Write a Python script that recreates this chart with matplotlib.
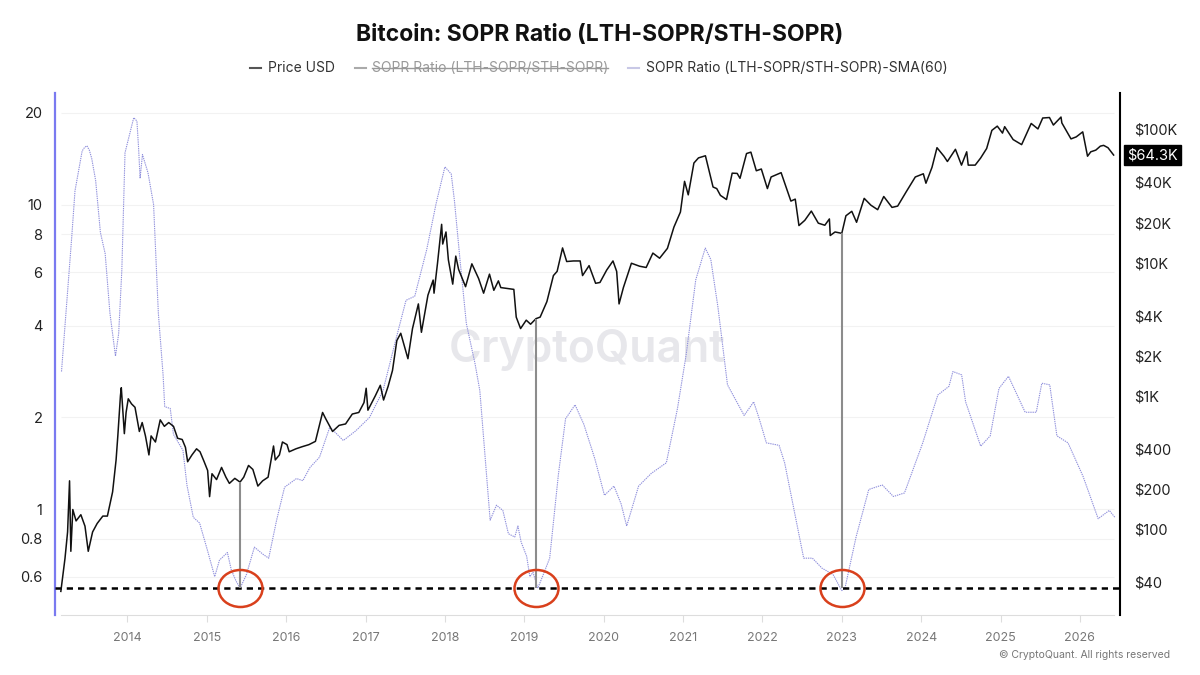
import numpy as np
import pandas as pd
import matplotlib
matplotlib.use("Agg")
import matplotlib.pyplot as plt
from matplotlib.path import Path
from matplotlib.transforms import Affine2D, blended_transform_factory
from matplotlib.lines import Line2D
from matplotlib.ticker import NullLocator

plt.rcParams['font.family'] = ['Inter', 'DejaVu Sans']

# ---- data ----

# BTC price (USD), right axis
price_dates = [
    '2013-03-01', '2013-03-20', '2013-04-01', '2013-04-10', '2013-04-16', '2013-04-25',
    '2013-05-10', '2013-06-01', '2013-06-20', '2013-07-05', '2013-07-25', '2013-08-15',
    '2013-09-10', '2013-10-01', '2013-10-25', '2013-11-10', '2013-11-18', '2013-11-30',
    '2013-12-04', '2013-12-18', '2013-12-26', '2014-01-05', '2014-01-20', '2014-02-05',
    '2014-02-25', '2014-03-10', '2014-03-25', '2014-04-10', '2014-04-20', '2014-05-10',
    '2014-06-01', '2014-06-20', '2014-07-10', '2014-08-01', '2014-08-20', '2014-09-10',
    '2014-09-25', '2014-10-05', '2014-10-25', '2014-11-15', '2014-12-01', '2014-12-20',
    '2015-01-05', '2015-01-14', '2015-01-25', '2015-02-15', '2015-03-10', '2015-03-30',
    '2015-04-15', '2015-05-10', '2015-06-03', '2015-06-20', '2015-07-12', '2015-08-01',
    '2015-08-24', '2015-09-15', '2015-10-10', '2015-11-04', '2015-11-12', '2015-12-01',
    '2015-12-15', '2016-01-05', '2016-01-15', '2016-02-15', '2016-03-15', '2016-04-15',
    '2016-05-15', '2016-06-17', '2016-07-01', '2016-08-02', '2016-09-01', '2016-10-01',
    '2016-11-01', '2016-12-01', '2016-12-25', '2017-01-04', '2017-01-12', '2017-02-15',
    '2017-03-10', '2017-03-25', '2017-04-15', '2017-05-05', '2017-05-25', '2017-06-12',
    '2017-07-15', '2017-08-05', '2017-09-01', '2017-09-15', '2017-10-15', '2017-11-08',
    '2017-11-12', '2017-11-28', '2017-12-17', '2017-12-22', '2018-01-06', '2018-01-17',
    '2018-02-06', '2018-02-20', '2018-03-05', '2018-04-06', '2018-05-05', '2018-06-05',
    '2018-06-28', '2018-07-25', '2018-08-14', '2018-09-04', '2018-09-15', '2018-10-15',
    '2018-11-14', '2018-11-25', '2018-12-15', '2019-01-10', '2019-01-30', '2019-02-24',
    '2019-03-15', '2019-04-15', '2019-05-15', '2019-06-01', '2019-06-26', '2019-07-15',
    '2019-08-15', '2019-09-15', '2019-09-26', '2019-10-26', '2019-11-25', '2019-12-15',
    '2020-01-15', '2020-02-13', '2020-03-01', '2020-03-12', '2020-04-01', '2020-05-08',
    '2020-06-15', '2020-07-15', '2020-08-15', '2020-09-15', '2020-10-21', '2020-11-20',
    '2020-12-20', '2021-01-08', '2021-01-25', '2021-02-20', '2021-03-13', '2021-04-14',
    '2021-05-19', '2021-06-05', '2021-06-22', '2021-07-20', '2021-08-15', '2021-09-07',
    '2021-09-20', '2021-10-20', '2021-11-09', '2021-12-04', '2021-12-27', '2022-01-24',
    '2022-02-10', '2022-03-28', '2022-05-12', '2022-06-01', '2022-06-18', '2022-07-15',
    '2022-08-14', '2022-09-15', '2022-10-15', '2022-11-05', '2022-11-09', '2022-12-01',
    '2023-01-01', '2023-01-20', '2023-02-16', '2023-03-10', '2023-04-14', '2023-05-15',
    '2023-06-15', '2023-07-13', '2023-08-20', '2023-09-15', '2023-10-24', '2023-12-05',
    '2024-01-11', '2024-01-23', '2024-02-20', '2024-03-14', '2024-04-15', '2024-05-01',
    '2024-06-07', '2024-07-05', '2024-07-29', '2024-08-05', '2024-09-06', '2024-10-01',
    '2024-10-29', '2024-11-22', '2024-12-17', '2025-01-10', '2025-01-20', '2025-02-28',
    '2025-04-08', '2025-05-22', '2025-06-22', '2025-07-14', '2025-08-14', '2025-09-01',
    '2025-10-06', '2025-10-10', '2025-11-21', '2025-12-15', '2026-01-14', '2026-02-05',
    '2026-02-20', '2026-03-15', '2026-04-05', '2026-04-20', '2026-05-10', '2026-06-05',
]
price_usd = [
    34, 60, 95, 230, 68, 140,
    115, 128, 105, 68, 95, 110,
    125, 125, 190, 330, 500, 1000,
    1150, 520, 750, 950, 870, 820,
    540, 630, 500, 360, 500, 450,
    660, 590, 630, 590, 480, 470,
    410, 320, 360, 400, 380, 320,
    275, 175, 260, 235, 290, 245,
    220, 240, 225, 245, 300, 280,
    210, 230, 245, 420, 330, 360,
    450, 430, 380, 400, 415, 430,
    455, 750, 675, 540, 600, 615,
    730, 750, 890, 1140, 780, 1000,
    1200, 930, 1180, 1550, 2600, 2950,
    1900, 3200, 4900, 3000, 5700, 7400,
    5900, 9900, 19400, 13800, 17000, 10500,
    6900, 11200, 8900, 6600, 9800, 7600,
    5900, 8200, 6200, 7300, 6500, 6400,
    6300, 3900, 3200, 3700, 3450, 3800,
    3900, 5100, 8000, 8600, 12900, 10200,
    10300, 10300, 8000, 9500, 7000, 7100,
    8800, 10300, 8600, 4900, 6500, 9900,
    9400, 9200, 11800, 10800, 12800, 18500,
    24000, 40800, 32300, 56000, 61200, 63500,
    37000, 36000, 32000, 29800, 47000, 46800,
    43000, 66000, 67600, 49000, 50500, 36000,
    44000, 47400, 29000, 30000, 19000, 20800,
    24400, 19800, 19100, 21300, 16000, 17000,
    16600, 22500, 24300, 20100, 30400, 27000,
    25000, 31400, 26000, 26600, 34000, 44000,
    46500, 39500, 52000, 73000, 63000, 57500,
    71000, 54000, 68000, 54000, 54000, 61000,
    72000, 98500, 106000, 94000, 105000, 84000,
    77000, 111000, 101000, 122000, 123000, 108000,
    124000, 112000, 85000, 88000, 96000, 63000,
    68000, 70000, 75000, 76000, 73000, 64300,
]

# SOPR Ratio (LTH-SOPR/STH-SOPR) SMA(60), left axis
sma_years = [
    2013.17, 2013.30, 2013.34, 2013.43, 2013.46, 2013.49, 2013.52, 2013.55, 2013.60, 2013.66,
    2013.72, 2013.78, 2013.85, 2013.89, 2013.93, 2013.97, 2014.08, 2014.12, 2014.14, 2014.16,
    2014.19, 2014.26, 2014.33, 2014.39, 2014.45, 2014.47, 2014.54, 2014.58, 2014.70, 2014.75,
    2014.83, 2014.91, 2015.01, 2015.10, 2015.16, 2015.26, 2015.31, 2015.37, 2015.42, 2015.50,
    2015.60, 2015.71, 2015.78, 2015.88, 2015.98, 2016.13, 2016.21, 2016.30, 2016.42, 2016.55,
    2016.72, 2016.88, 2017.05, 2017.22, 2017.39, 2017.51, 2017.62, 2017.77, 2017.89, 2018.00,
    2018.08, 2018.12, 2018.19, 2018.27, 2018.38, 2018.44, 2018.50, 2018.57, 2018.65, 2018.73,
    2018.80, 2018.88, 2018.92, 2018.96, 2019.03, 2019.07, 2019.11, 2019.17, 2019.24, 2019.32,
    2019.43, 2019.52, 2019.64, 2019.75, 2019.89, 2020.01, 2020.13, 2020.22, 2020.29, 2020.44,
    2020.60, 2020.79, 2020.93, 2021.04, 2021.16, 2021.28, 2021.35, 2021.44, 2021.56, 2021.77,
    2021.89, 2021.96, 2022.05, 2022.21, 2022.28, 2022.40, 2022.52, 2022.63, 2022.75, 2022.89,
    2023.00, 2023.04, 2023.18, 2023.34, 2023.51, 2023.65, 2023.79, 2024.02, 2024.21, 2024.35,
    2024.40, 2024.51, 2024.56, 2024.75, 2024.87, 2024.98, 2025.10, 2025.31, 2025.45, 2025.52,
    2025.62, 2025.71, 2025.85, 2026.04, 2026.23, 2026.37, 2026.44,
]
sma_ratio = [
    2.83, 7.9, 11.1, 15.0, 15.4, 15.6, 15.1, 14.2, 12.0, 8.1,
    6.9, 4.4, 3.18, 3.77, 6.1, 14.8, 19.3, 18.8, 15.5, 12.2,
    14.6, 12.7, 10.0, 4.4, 2.75, 2.17, 2.14, 1.76, 1.56, 1.2,
    0.94, 0.90, 0.73, 0.60, 0.68, 0.72, 0.63, 0.58, 0.55, 0.61,
    0.75, 0.71, 0.69, 0.92, 1.18, 1.26, 1.24, 1.37, 1.48, 1.86,
    1.68, 1.81, 2.0, 2.45, 3.67, 4.85, 5.0, 7.1, 10.1, 13.3,
    12.6, 10.3, 6.6, 4.07, 3.0, 2.45, 1.56, 0.92, 1.03, 0.99,
    0.83, 0.81, 0.88, 0.78, 0.70, 0.60, 0.62, 0.55, 0.61, 0.69,
    1.3, 1.98, 2.2, 1.9, 1.46, 1.11, 1.19, 1.04, 0.88, 1.19,
    1.31, 1.42, 2.14, 3.22, 5.66, 7.2, 6.6, 4.6, 2.56, 2.03,
    2.25, 1.98, 1.65, 1.62, 1.42, 0.99, 0.69, 0.69, 0.64, 0.61,
    0.54, 0.55, 0.81, 1.16, 1.20, 1.10, 1.13, 1.65, 2.37, 2.53,
    2.83, 2.76, 2.25, 1.61, 1.74, 2.49, 2.73, 2.08, 2.08, 2.59,
    2.56, 1.74, 1.65, 1.28, 0.93, 0.99, 0.94,
]

threshold = 0.549
low_dates = ['2015-06-03', '2019-02-24', '2023-01-01']
low_price = [225, 3800, 16600]

left_ticks = [0.6, 0.8, 1, 2, 4, 6, 8, 10, 20]
left_labels = ['0.6', '0.8', '1', '2', '4', '6', '8', '10', '20']
right_ticks = [40, 100, 200, 400, 1000, 2000, 4000, 10000, 20000, 40000, 100000]
right_labels = ['$40', '$100', '$200', '$400', '$1K', '$2K', '$4K', '$10K', '$20K', '$40K', '$100K']
year_ticks = list(range(2014, 2027))
last_label = '$64.3K'


def to_year(d):
    d = pd.Timestamp(d)
    y0 = pd.Timestamp(year=d.year, month=1, day=1)
    y1 = pd.Timestamp(year=d.year + 1, month=1, day=1)
    return d.year + (d - y0) / (y1 - y0)


price_x = [to_year(d) for d in price_dates]
low_x = [to_year(d) for d in low_dates]

W, H = 1200, 675
fig = plt.figure(figsize=(12, 6.75), dpi=100)
ax = fig.add_axes([55 / W, 1 - 615 / H, (1120 - 55) / W, (615 - 93.3) / H])
ax.set_yscale('log')
ax.set_ylim(0.449, 23.2)
ax.set_xlim(2013.088, 2026.505)
ax2 = ax.twinx()
ax2.set_yscale('log')
ax2.set_ylim(22.6, 187000)

# watermark
ax.text(0.4995, 0.508, 'CryptoQuant', transform=ax.transAxes, ha='center', va='center',
        fontsize=32, fontweight='semibold', color='#e7e7eb', zorder=0)

# grid
ax.hlines(left_ticks, price_x[0], price_x[-1], color='#f2f2f2', lw=0.8, zorder=0)

# series
ax.plot(sma_years, sma_ratio, color='#9090dc', lw=0.8, ls=(0, (1.2, 0.8)), zorder=2)
ax2.plot(price_x, price_usd, color='#111111', lw=1.1, zorder=3)

# threshold line
ax.axhline(threshold, color='black', lw=1.8, ls=(0, (2.5, 2)), zorder=4)

# vertical markers from threshold to price
fig.canvas.draw()
y_disp = ax.transData.transform((2020, threshold))[1]
thr_price = ax2.transData.inverted().transform((2020, y_disp))[1]
ax2.vlines(low_x, thr_price, low_price, color='#8c8c8c', lw=1.5, zorder=5)

# red ellipses
ell = Path.unit_circle().transformed(Affine2D().scale(1, 37 / 44))
ax2.plot(low_x, [thr_price] * 3, ls='none', marker=ell, ms=44 * 0.72,
         mfc='none', mec='#d9401c', mew=1.8, zorder=6)

# axes styling
for s in ['top', 'right']:
    ax.spines[s].set_visible(False)
for s in ['top', 'left', 'bottom']:
    ax2.spines[s].set_visible(False)
ax.spines['left'].set_color('#7a7af0')
ax.spines['left'].set_linewidth(1.6)
ax.spines['bottom'].set_color('#dddddd')
ax.spines['bottom'].set_bounds(price_x[0], price_x[-1])
ax2.spines['right'].set_color('black')
ax2.spines['right'].set_linewidth(1.5)

ax.set_yticks(left_ticks)
ax.set_yticklabels(left_labels)
ax.yaxis.set_minor_locator(NullLocator())
ax.tick_params(axis='y', length=0, pad=9, labelsize=10.5, labelcolor='#222222')
ax2.set_yticks(right_ticks)
ax2.set_yticklabels(right_labels)
ax2.yaxis.set_minor_locator(NullLocator())
ax2.tick_params(axis='y', length=0, pad=10, labelsize=10.5, labelcolor='#222222')

ax.set_xticks(year_ticks)
ax.set_xticklabels([str(y) for y in year_ticks])
ax.tick_params(axis='x', length=5, color='#dddddd', pad=7, labelsize=9, labelcolor='#777777')

# last price badge
ax2.annotate(last_label, xy=(1.0, price_usd[-1]),
             xycoords=blended_transform_factory(ax2.transAxes, ax2.transData),
             xytext=(5, 0), textcoords='offset points', ha='left', va='center',
             fontsize=10.5, color='white',
             bbox=dict(boxstyle='square,pad=0.2', fc='black', ec='black'))

# title
fig.text(0.5, 1 - 35 / H, 'Bitcoin: SOPR Ratio (LTH-SOPR/STH-SOPR)', ha='center', va='center',
         fontsize=16.5, fontweight='bold', color='#111111')

# legend
leg_y = 1 - 68 / H
items = [
    (250, 268, 'Price USD', '#555555', '#333333', False),
    (355, 372, 'SOPR Ratio (LTH-SOPR/STH-SOPR)', '#aaaaaa', '#999999', True),
    (628, 646, 'SOPR Ratio (LTH-SOPR/STH-SOPR)-SMA(60)', '#c8c8e6', '#333333', False),
]
renderer = fig.canvas.get_renderer()
for dash_x, text_x, label, dash_c, text_c, struck in items:
    fig.add_artist(Line2D([dash_x / W, (dash_x + 11) / W], [leg_y, leg_y],
                          color=dash_c, lw=1.5, transform=fig.transFigure))
    t = fig.text(text_x / W, leg_y, label, ha='left', va='center', fontsize=10, color=text_c)
    if struck:
        bb = t.get_window_extent(renderer)
        fig.add_artist(Line2D([bb.x0 / W, bb.x1 / W], [leg_y, leg_y],
                              color=text_c, lw=1.0, transform=fig.transFigure))

fig.text(1170 / W, 1 - 655 / H, '\u00a9 CryptoQuant. All rights reserved', ha='right', va='center',
         fontsize=7.5, color='#777777')

fig.savefig('out.png', dpi=100)
